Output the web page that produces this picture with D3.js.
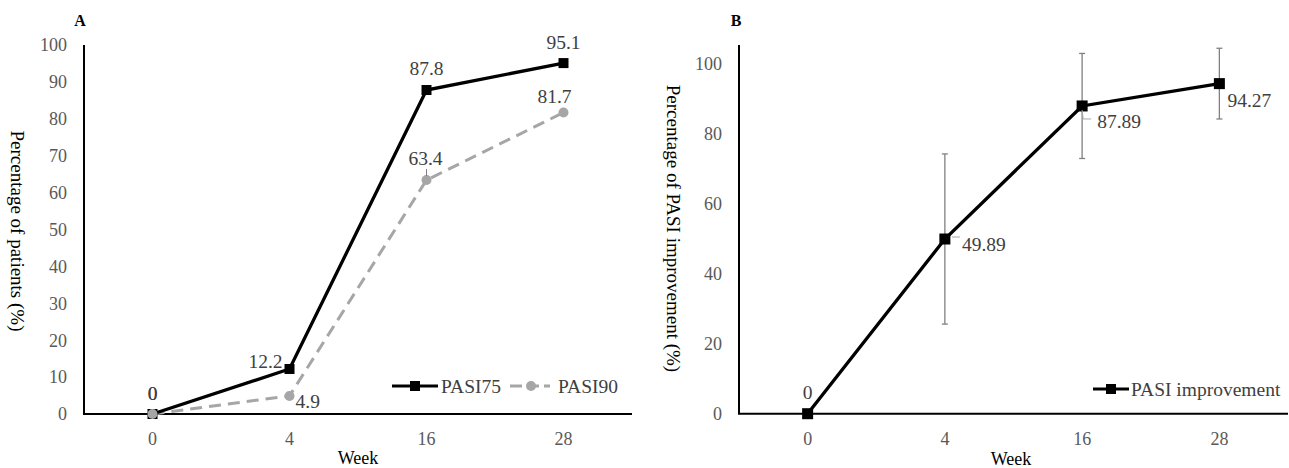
<!DOCTYPE html>
<html><head><meta charset="utf-8">
<script src="https://cdn.jsdelivr.net/npm/d3@7"></script>
<style>body{margin:0;background:#fff} svg{display:block} svg text{font-family:'Liberation Serif','Times New Roman',serif}</style>
</head><body><svg id="c" width="1289" height="468"></svg>
<script>
// ---- data ----
const weeks = ["0", "4", "16", "28"];
const pasi75 = [0, 12.2, 87.8, 95.1];
const pasi90 = [0, 4.9, 63.4, 81.7];
const pasi75Labels = ["0", "12.2", "87.8", "95.1"];
const pasi90Labels = ["0", "4.9", "63.4", "81.7"];
const pasiImprovement = [0, 49.89, 87.89, 94.27];
const pasiImprovementErr = [0, 24.3, 15.0, 10.1];
const pasiImprovementLabels = ["0", "49.89", "87.89", "94.27"];
const ticksA = [0, 10, 20, 30, 40, 50, 60, 70, 80, 90, 100];
const ticksB = [0, 20, 40, 60, 80, 100];

// ---- styles ----
const FONT = "'Liberation Serif','Times New Roman',serif";
const TICK_COL = "#595959", LABEL_COL = "#404040", GRAY = "#a6a6a6", ERR = "#808080";

const svg = d3.select("#c").style("font-family", FONT);

// ---- scales ----
const xA = d3.scaleBand().domain(weeks).range([84, 632]);
const yA = d3.scaleLinear().domain([0, 100]).range([414, 45]);
const xB = d3.scaleBand().domain(weeks).range([739, 1288]);
const yB = d3.scaleLinear().domain([0, 105.3]).range([413.7, 45]);
const cx = (s, w) => s(w) + s.bandwidth() / 2;

function axes(x, y, ticks, yLabelX) {
  const g = svg.append("g");
  g.selectAll("text.yt").data(ticks).join("text")
    .attr("x", yLabelX).attr("y", d => y(d)).attr("dy", "0.35em")
    .attr("text-anchor", "end").attr("fill", TICK_COL).attr("font-size", 18)
    .text(d => d);
  g.selectAll("text.xt").data(weeks).join("text")
    .attr("x", d => cx(x, d)).attr("y", 439).attr("dy", "0.35em")
    .attr("text-anchor", "middle").attr("fill", TICK_COL).attr("font-size", 18)
    .text(d => d);
  g.append("line").attr("x1", x.range()[0]).attr("x2", x.range()[0])
    .attr("y1", y.range()[1]).attr("y2", y.range()[0])
    .attr("stroke", "#000").attr("stroke-width", 2);
  g.append("line").attr("x1", x.range()[0] - 1).attr("x2", x.range()[1])
    .attr("y1", y(0)).attr("y2", y(0))
    .attr("stroke", "#000").attr("stroke-width", 2);
}
axes(xA, yA, ticksA, 67);
axes(xB, yB, ticksB, 722);

// ---- Panel A ----
const lineA = d3.line().x((d, i) => cx(xA, weeks[i])).y(d => yA(d));
svg.append("path").datum(pasi90).attr("d", lineA).attr("fill", "none")
  .attr("stroke", GRAY).attr("stroke-width", 3).attr("stroke-dasharray", "12,7");
svg.append("path").datum(pasi75).attr("d", lineA).attr("fill", "none")
  .attr("stroke", "#000").attr("stroke-width", 3.3);
svg.selectAll("rect.m75").data(pasi75).join("rect")
  .attr("x", (d, i) => cx(xA, weeks[i]) - 5).attr("y", d => yA(d) - 5)
  .attr("width", 10).attr("height", 10).attr("fill", "#000");
svg.selectAll("circle.m90").data(pasi90).join("circle")
  .attr("cx", (d, i) => cx(xA, weeks[i])).attr("cy", d => yA(d))
  .attr("r", 5).attr("fill", GRAY);

// label placements (layout)
const place75 = [[0, -21, "middle"], [-7, -8, "end"], [0, -22, "middle"], [0, -21, "middle"]];
const place90 = [[0, -21, "middle"], [6, 5, "start"], [-1, -22, "middle"], [-9, -16, "middle"]];
svg.selectAll("text.l75").data(pasi75).join("text")
  .attr("x", (d, i) => cx(xA, weeks[i]) + place75[i][0]).attr("y", (d, i) => yA(d) + place75[i][1])
  .attr("dy", "0.35em").attr("text-anchor", (d, i) => place75[i][2])
  .attr("fill", LABEL_COL).attr("font-size", 19.5).text((d, i) => pasi75Labels[i]);
svg.selectAll("text.l90").data(pasi90).join("text")
  .attr("x", (d, i) => cx(xA, weeks[i]) + place90[i][0]).attr("y", (d, i) => yA(d) + place90[i][1])
  .attr("dy", "0.35em").attr("text-anchor", (d, i) => place90[i][2])
  .attr("fill", LABEL_COL).attr("font-size", 19.5).text((d, i) => pasi90Labels[i]);
svg.append("line").attr("x1", cx(xA, weeks[2])).attr("x2", cx(xA, weeks[2]))
  .attr("y1", yA(pasi90[2]) - 11).attr("y2", yA(pasi90[2]) - 4)
  .attr("stroke", "#7f7f7f").attr("stroke-width", 1);

// legend A
(function () {
  const y = 386;
  svg.append("line").attr("x1", 392).attr("x2", 438).attr("y1", y).attr("y2", y)
    .attr("stroke", "#000").attr("stroke-width", 3);
  svg.append("rect").attr("x", 410).attr("y", y - 5).attr("width", 10).attr("height", 10).attr("fill", "#000");
  svg.append("text").attr("x", 441).attr("y", y).attr("dy", "0.35em").attr("font-size", 19.5)
    .attr("fill", LABEL_COL).text("PASI75");
  svg.append("line").attr("x1", 510).attr("x2", 550).attr("y1", y).attr("y2", y)
    .attr("stroke", GRAY).attr("stroke-width", 3).attr("stroke-dasharray", "12,5");
  svg.append("circle").attr("cx", 531).attr("cy", y).attr("r", 5).attr("fill", GRAY);
  svg.append("text").attr("x", 558).attr("y", y).attr("dy", "0.35em").attr("font-size", 19.5)
    .attr("fill", LABEL_COL).text("PASI90");
})();

// ---- Panel B ----
const errG = svg.append("g").attr("stroke", ERR).attr("stroke-width", 1.3);
pasiImprovement.forEach((v, i) => {
  const e = pasiImprovementErr[i];
  if (!e) return;
  const x = cx(xB, weeks[i]);
  errG.append("line").attr("x1", x).attr("x2", x).attr("y1", yB(v + e)).attr("y2", yB(v - e));
  errG.append("line").attr("x1", x - 3).attr("x2", x + 3).attr("y1", yB(v + e)).attr("y2", yB(v + e));
  errG.append("line").attr("x1", x - 3).attr("x2", x + 3).attr("y1", yB(v - e)).attr("y2", yB(v - e));
});
const lineB = d3.line().x((d, i) => cx(xB, weeks[i])).y(d => yB(d));
svg.append("path").datum(pasiImprovement).attr("d", lineB).attr("fill", "none")
  .attr("stroke", "#000").attr("stroke-width", 3.3);
svg.selectAll("rect.mb").data(pasiImprovement).join("rect")
  .attr("x", (d, i) => cx(xB, weeks[i]) - 5.5).attr("y", d => yB(d) - 5.5)
  .attr("width", 11).attr("height", 11).attr("fill", "#000");
const placeB = [[0, -22, "middle"], [17, 5, "start"], [15, 15, "start"], [8, 17, "start"]];
svg.selectAll("text.lb").data(pasiImprovement).join("text")
  .attr("x", (d, i) => cx(xB, weeks[i]) + placeB[i][0]).attr("y", (d, i) => yB(d) + placeB[i][1])
  .attr("dy", "0.35em").attr("text-anchor", (d, i) => placeB[i][2])
  .attr("fill", LABEL_COL).attr("font-size", 19.5).text((d, i) => pasiImprovementLabels[i]);
(function () {
  const x1 = cx(xB, weeks[1]), y1 = yB(pasiImprovement[1]);
  svg.append("line").attr("x1", x1 + 7).attr("x2", x1 + 15).attr("y1", y1 - 2).attr("y2", y1 - 2)
    .attr("stroke", GRAY).attr("stroke-width", 1);
  const x2 = cx(xB, weeks[2]), y2 = yB(pasiImprovement[2]);
  svg.append("polyline").attr("points", `${x2},${y2 + 4} ${x2 + 1},${y2 + 13} ${x2 + 9},${y2 + 13}`)
    .attr("fill", "none").attr("stroke", GRAY).attr("stroke-width", 1);
})();

// legend B
(function () {
  const y = 389;
  svg.append("line").attr("x1", 1093).attr("x2", 1129).attr("y1", y).attr("y2", y)
    .attr("stroke", "#000").attr("stroke-width", 3);
  svg.append("rect").attr("x", 1106).attr("y", y - 5).attr("width", 10).attr("height", 10).attr("fill", "#000");
  svg.append("text").attr("x", 1131).attr("y", y).attr("dy", "0.35em").attr("font-size", 19.5)
    .attr("fill", LABEL_COL).text("PASI improvement");
})();

// ---- titles ----
svg.append("text").attr("x", 80).attr("y", 20).attr("dy", "0.35em").attr("text-anchor", "middle")
  .attr("font-weight", "bold").attr("font-size", 16).text("A");
svg.append("text").attr("x", 736).attr("y", 20).attr("dy", "0.35em").attr("text-anchor", "middle")
  .attr("font-weight", "bold").attr("font-size", 16).text("B");
svg.append("text").attr("x", 358).attr("y", 458).attr("dy", "0.35em").attr("text-anchor", "middle")
  .attr("font-size", 18).attr("fill", "#000").text("Week");
svg.append("text").attr("x", 1011).attr("y", 459).attr("dy", "0.35em").attr("text-anchor", "middle")
  .attr("font-size", 18).attr("fill", "#000").text("Week");
svg.append("text").attr("transform", "translate(18,231) rotate(90)").attr("dy", "0.35em")
  .attr("text-anchor", "middle").attr("font-size", 19).attr("fill", "#000")
  .text("Percentage of patients (%)");
svg.append("text").attr("transform", "translate(674,228.5) rotate(90)").attr("dy", "0.35em")
  .attr("text-anchor", "middle").attr("font-size", 19).attr("fill", "#000")
  .text("Percentage of PASI improvement (%)");
</script></body></html>
